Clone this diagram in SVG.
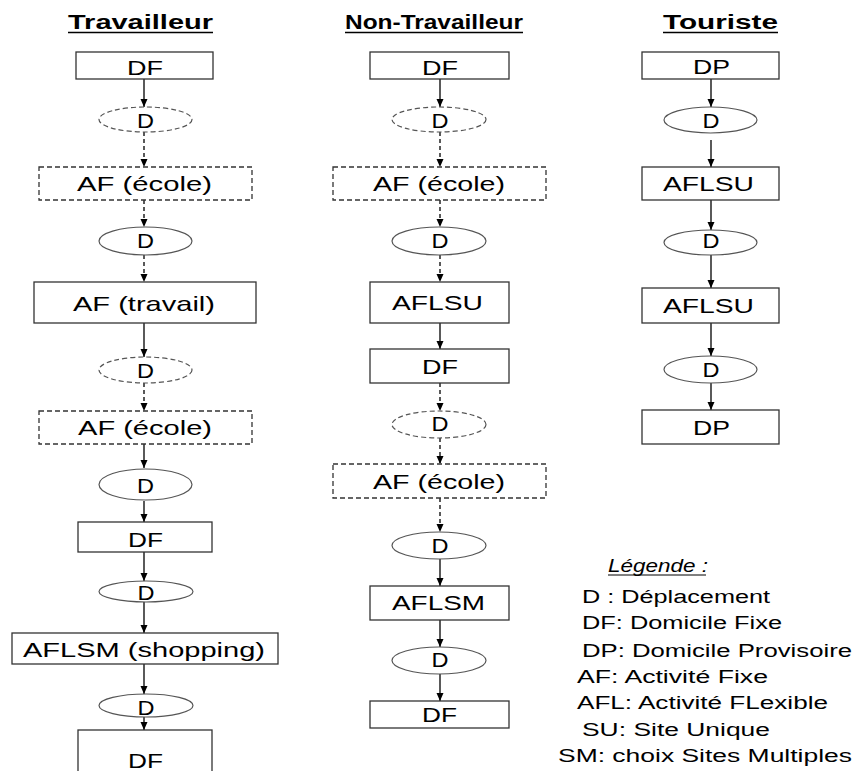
<svg xmlns="http://www.w3.org/2000/svg" width="854" height="771" viewBox="0 0 854 771">
<style>
.box{fill:#fff;stroke:#333;stroke-width:1.3}
.dbox{fill:#fff;stroke:#333;stroke-width:1.3;stroke-dasharray:5 3}
.ell{fill:#fff;stroke:#555;stroke-width:1.2}
.dell{fill:#fff;stroke:#555;stroke-width:1.2;stroke-dasharray:5 3}
.t{font-family:"Liberation Sans",Arial,sans-serif;font-size:21px;text-anchor:middle;fill:#000}
.h{font-family:"Liberation Sans",Arial,sans-serif;font-size:20px;font-weight:bold;fill:#000}
.l{font-family:"Liberation Sans",Arial,sans-serif;font-size:18px;fill:#000}
.c{stroke:#000;stroke-width:1.3;fill:none;marker-end:url(#ah)}
.dc{stroke:#000;stroke-width:1.3;fill:none;stroke-dasharray:4 3;marker-end:url(#ah)}
.u{stroke:#000;stroke-width:1.5}
</style>
<defs>
<marker id="ah" markerUnits="userSpaceOnUse" markerWidth="8" markerHeight="8" refX="8" refY="4" orient="auto">
<path d="M0,0.5 L8,4 L0,7.5 z" fill="#000"/>
</marker>
</defs>
<rect width="854" height="771" fill="#fff"/>

<g id="titles">
<text class="h" x="68" y="29" textLength="145" lengthAdjust="spacingAndGlyphs">Travailleur</text>
<line class="u" x1="68" y1="32.5" x2="213" y2="32.5"/>
<text class="h" x="345" y="29" textLength="178" lengthAdjust="spacingAndGlyphs">Non-Travailleur</text>
<line class="u" x1="345" y1="32.5" x2="523" y2="32.5"/>
<text class="h" x="663" y="29" textLength="115" lengthAdjust="spacingAndGlyphs">Touriste</text>
<line class="u" x1="663" y1="32.5" x2="778" y2="32.5"/>
</g>

<g id="connectors">
<line class="c" x1="144" y1="79" x2="144" y2="107"/>
<line class="dc" x1="144" y1="132" x2="144" y2="167"/>
<line class="dc" x1="144" y1="200" x2="144" y2="227"/>
<line class="dc" x1="144" y1="255" x2="144" y2="282"/>
<line class="c" x1="144" y1="323" x2="144" y2="357"/>
<line class="dc" x1="144" y1="383" x2="144" y2="411"/>
<line class="c" x1="144" y1="444" x2="144" y2="468"/>
<line class="c" x1="144" y1="501" x2="144" y2="522"/>
<line class="c" x1="144" y1="552" x2="144" y2="581"/>
<line class="c" x1="144" y1="602" x2="144" y2="633"/>
<line class="c" x1="144" y1="664" x2="144" y2="694"/>
<line class="c" x1="144" y1="717" x2="144" y2="730"/>

<line class="c" x1="440" y1="79" x2="440" y2="107"/>
<line class="dc" x1="440" y1="132" x2="440" y2="167"/>
<line class="dc" x1="440" y1="200" x2="440" y2="227"/>
<line class="dc" x1="440" y1="255" x2="440" y2="282"/>
<line class="c" x1="440" y1="323" x2="440" y2="349"/>
<line class="dc" x1="440" y1="383" x2="440" y2="411"/>
<line class="dc" x1="440" y1="438" x2="440" y2="464"/>
<line class="dc" x1="440" y1="498" x2="440" y2="532"/>
<line class="c" x1="440" y1="559" x2="440" y2="586"/>
<line class="c" x1="440" y1="620" x2="440" y2="647"/>
<line class="c" x1="440" y1="674" x2="440" y2="701"/>

<line class="c" x1="711" y1="79" x2="711" y2="107"/>
<line class="c" x1="711" y1="140" x2="711" y2="167"/>
<line class="c" x1="711" y1="200" x2="711" y2="230"/>
<line class="c" x1="711" y1="255" x2="711" y2="288"/>
<line class="c" x1="711" y1="323" x2="711" y2="356"/>
<line class="c" x1="711" y1="383" x2="711" y2="410"/>
</g>

<g id="t1_df1"><rect class="box" x="76" y="52" width="137" height="27"/><text class="t" x="145" y="75" textLength="36" lengthAdjust="spacingAndGlyphs">DF</text></g>
<g id="t1_d1"><ellipse class="dell" cx="145.5" cy="119.5" rx="46.5" ry="12.5"/><text class="t" x="145.5" y="128" textLength="17" lengthAdjust="spacingAndGlyphs">D</text></g>
<g id="t1_af1"><rect class="dbox" x="39" y="167" width="213" height="33"/><text class="t" x="144.5" y="191" textLength="135" lengthAdjust="spacingAndGlyphs">AF (école)</text></g>
<g id="t1_d2"><ellipse class="ell" cx="145.5" cy="241" rx="46.5" ry="14"/><text class="t" x="145.5" y="248" textLength="17" lengthAdjust="spacingAndGlyphs">D</text></g>
<g id="t1_aft"><rect class="box" x="34" y="282" width="222" height="41"/><text class="t" x="144" y="311" textLength="142" lengthAdjust="spacingAndGlyphs">AF (travail)</text></g>
<g id="t1_d3"><ellipse class="dell" cx="145.5" cy="370" rx="46.5" ry="13"/><text class="t" x="145.5" y="378" textLength="17" lengthAdjust="spacingAndGlyphs">D</text></g>
<g id="t1_af2"><rect class="dbox" x="39" y="411" width="213" height="33"/><text class="t" x="145" y="435" textLength="134" lengthAdjust="spacingAndGlyphs">AF (école)</text></g>
<g id="t1_d4"><ellipse class="ell" cx="145.5" cy="484.5" rx="46.5" ry="15.5"/><text class="t" x="145.5" y="493" textLength="17" lengthAdjust="spacingAndGlyphs">D</text></g>
<g id="t1_df2"><rect class="box" x="78" y="522" width="134" height="30"/><text class="t" x="145.5" y="547" textLength="35" lengthAdjust="spacingAndGlyphs">DF</text></g>
<g id="t1_d5"><ellipse class="ell" cx="146" cy="591.5" rx="47" ry="10.5"/><text class="t" x="146" y="600" textLength="17" lengthAdjust="spacingAndGlyphs">D</text></g>
<g id="t1_aflsm"><rect class="box" x="12" y="633" width="266" height="31"/><text class="t" x="144" y="657" textLength="242" lengthAdjust="spacingAndGlyphs">AFLSM (shopping)</text></g>
<g id="t1_d6"><ellipse class="ell" cx="146" cy="705.5" rx="47" ry="11.5"/><text class="t" x="146" y="715" textLength="17" lengthAdjust="spacingAndGlyphs">D</text></g>
<g id="t1_df3"><rect class="box" x="78" y="730" width="134" height="50"/><text class="t" x="145.5" y="768" textLength="35" lengthAdjust="spacingAndGlyphs">DF</text></g>

<g id="n_df1"><rect class="box" x="370" y="52" width="139" height="27"/><text class="t" x="440" y="75" textLength="36" lengthAdjust="spacingAndGlyphs">DF</text></g>
<g id="n_d1"><ellipse class="dell" cx="439" cy="119.5" rx="47" ry="12.5"/><text class="t" x="440" y="128" textLength="17" lengthAdjust="spacingAndGlyphs">D</text></g>
<g id="n_af1"><rect class="dbox" x="333" y="167" width="213" height="33"/><text class="t" x="439" y="191" textLength="132" lengthAdjust="spacingAndGlyphs">AF (école)</text></g>
<g id="n_d2"><ellipse class="ell" cx="439" cy="241" rx="47" ry="14"/><text class="t" x="440" y="248" textLength="17" lengthAdjust="spacingAndGlyphs">D</text></g>
<g id="n_aflsu"><rect class="box" x="370" y="282" width="139" height="41"/><text class="t" x="437.5" y="310" textLength="91" lengthAdjust="spacingAndGlyphs">AFLSU</text></g>
<g id="n_df2"><rect class="box" x="370" y="349" width="139" height="34"/><text class="t" x="440" y="374" textLength="36" lengthAdjust="spacingAndGlyphs">DF</text></g>
<g id="n_d3"><ellipse class="dell" cx="439" cy="424.5" rx="47" ry="13.5"/><text class="t" x="440" y="431" textLength="17" lengthAdjust="spacingAndGlyphs">D</text></g>
<g id="n_af2"><rect class="dbox" x="333" y="464" width="213" height="34"/><text class="t" x="439" y="489" textLength="132" lengthAdjust="spacingAndGlyphs">AF (école)</text></g>
<g id="n_d4"><ellipse class="ell" cx="439" cy="545.5" rx="47" ry="13.5"/><text class="t" x="440" y="553" textLength="17" lengthAdjust="spacingAndGlyphs">D</text></g>
<g id="n_aflsm"><rect class="box" x="370" y="586" width="139" height="34"/><text class="t" x="438.5" y="610" textLength="93" lengthAdjust="spacingAndGlyphs">AFLSM</text></g>
<g id="n_d5"><ellipse class="ell" cx="439" cy="660.5" rx="47" ry="13.5"/><text class="t" x="440" y="667" textLength="17" lengthAdjust="spacingAndGlyphs">D</text></g>
<g id="n_df3"><rect class="box" x="370" y="701" width="139" height="27"/><text class="t" x="439.5" y="722" textLength="35" lengthAdjust="spacingAndGlyphs">DF</text></g>

<g id="u_dp1"><rect class="box" x="642" y="52" width="137" height="27"/><text class="t" x="711.5" y="74" textLength="37" lengthAdjust="spacingAndGlyphs">DP</text></g>
<g id="u_d1"><ellipse class="ell" cx="710.5" cy="120" rx="46.5" ry="13"/><text class="t" x="711" y="128" textLength="17" lengthAdjust="spacingAndGlyphs">D</text></g>
<g id="u_aflsu1"><rect class="box" x="642" y="167" width="137" height="33"/><text class="t" x="708.5" y="191" textLength="91" lengthAdjust="spacingAndGlyphs">AFLSU</text></g>
<g id="u_d2"><ellipse class="ell" cx="710.5" cy="242.5" rx="46.5" ry="12.5"/><text class="t" x="711" y="248" textLength="17" lengthAdjust="spacingAndGlyphs">D</text></g>
<g id="u_aflsu2"><rect class="box" x="642" y="288" width="137" height="35"/><text class="t" x="708.5" y="313" textLength="91" lengthAdjust="spacingAndGlyphs">AFLSU</text></g>
<g id="u_d3"><ellipse class="ell" cx="710.5" cy="369.5" rx="46.5" ry="13.5"/><text class="t" x="711" y="377" textLength="17" lengthAdjust="spacingAndGlyphs">D</text></g>
<g id="u_dp2"><rect class="box" x="642" y="410" width="137" height="34"/><text class="t" x="711.5" y="435" textLength="37" lengthAdjust="spacingAndGlyphs">DP</text></g>

<g id="legend">
<text class="l" x="608" y="572" font-style="italic" font-size="16" textLength="100" lengthAdjust="spacingAndGlyphs">Légende :</text>
<line x1="608" y1="575" x2="706" y2="575" stroke="#000" stroke-width="1"/>
<text class="l" x="582" y="603" textLength="188" lengthAdjust="spacingAndGlyphs">D : Déplacement</text>
<text class="l" x="582" y="629" textLength="200" lengthAdjust="spacingAndGlyphs">DF: Domicile Fixe</text>
<text class="l" x="582" y="657" textLength="270" lengthAdjust="spacingAndGlyphs">DP: Domicile Provisoire</text>
<text class="l" x="577" y="683" textLength="191" lengthAdjust="spacingAndGlyphs">AF: Activité Fixe</text>
<text class="l" x="577" y="709" textLength="251" lengthAdjust="spacingAndGlyphs">AFL: Activité FLexible</text>
<text class="l" x="582" y="736" textLength="188" lengthAdjust="spacingAndGlyphs">SU: Site Unique</text>
<text class="l" x="558" y="762" textLength="294" lengthAdjust="spacingAndGlyphs">SM: choix Sites Multiples</text>
</g>
</svg>
